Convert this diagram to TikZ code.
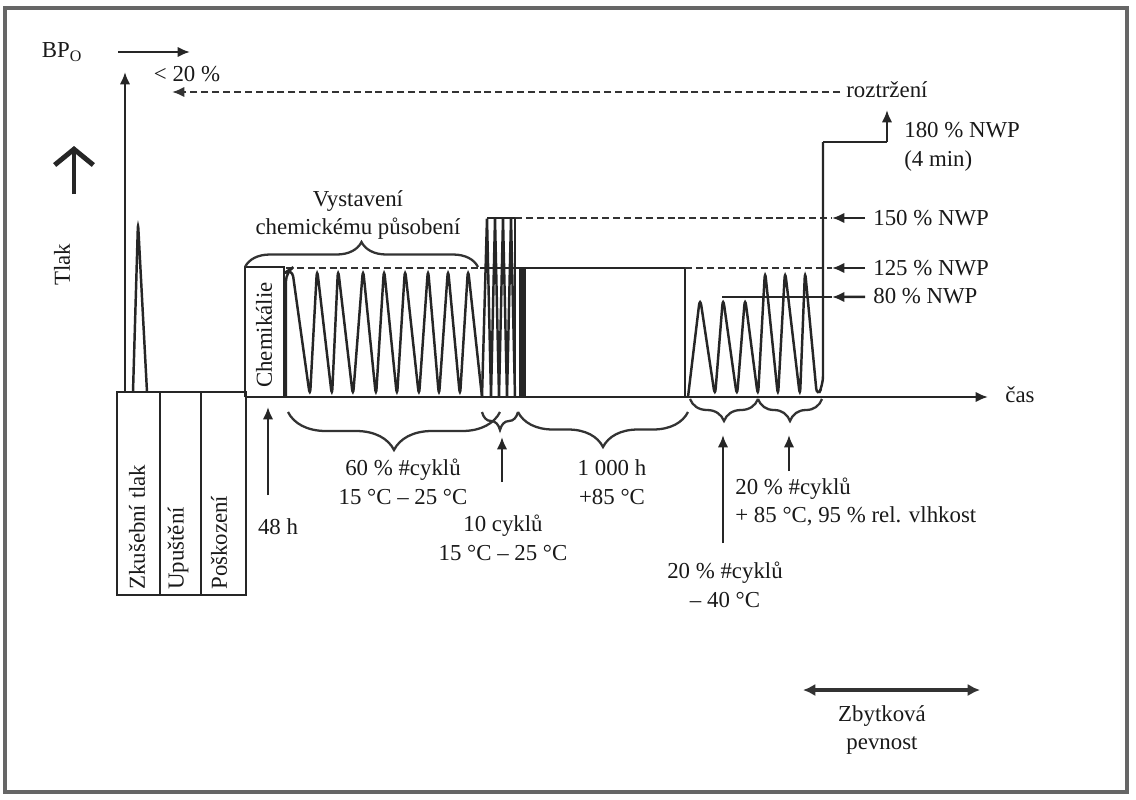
\documentclass[tikz,border=0pt]{standalone}
\usepackage{fontspec}
\setmainfont{Liberation Serif}
\usetikzlibrary{arrows.meta,decorations.pathreplacing}
\begin{document}
\begin{tikzpicture}[x=0.02cm,y=-0.02cm,
  every node/.style={font=\fontsize{13}{16.4}\selectfont, inner sep=0pt, text=black!90},
  ln/.style={line width=1.4pt, draw=black!85},
  dsh/.style={line width=1.5pt, draw=black!80, dash pattern=on 4pt off 2.2pt},
  arr/.style={-{Latex[length=7pt,width=6pt]}},
  brc/.style={line width=1.3pt, draw=black!80, decorate, decoration={brace, amplitude=#1}},
  lbl/.style={align=center},
]
\useasboundingbox (0,0) rectangle (1136,799);
\fill[white] (0,0) rectangle (1136,799);
\draw[line width=2.4pt, black!60] (5,8) rectangle (1127,792);

% top-left labels
\node (bpo) at (62,52) {BP\textsubscript{O}};
\coordinate (bpa) at (118,52); \coordinate (bpb) at (190,52);
\draw[ln,arr] (bpa) -- (bpb);
\node (lt20) at (187,74) {< 20 \%};
\coordinate (ba1) at (74,194); \coordinate (ba2) at (74,146);
\draw[line width=2.8pt, black!85, -{Straight Barb[length=9pt,width=22pt]}] (ba1) -- (ba2);
\node[rotate=90] (tlak) at (62,265) {Tlak};

% vertical axis
\coordinate (y0) at (125,392); \coordinate (y1) at (125,72);
\draw[ln,arr] (y0) -- (y1);

% rupture line
\node[anchor=west] (roz) at (846,90) {roztržení};
\coordinate (roze) at (840,92); \coordinate (rozt) at (172,92);
\draw[dsh,arr] (roze) -- (rozt);

% left boxes
\draw[ln] (117,392) rectangle (160,595);
\draw[ln] (160,392) rectangle (201,595);
\draw[ln] (201,392) rectangle (246,595);
\node[rotate=90,anchor=west] (zk) at (137,590) {Zkušební tlak};
\node[rotate=90,anchor=west] (up) at (178,590) {Upuštění};
\node[rotate=90,anchor=west] (po) at (219,590) {Poškození};

% spike
\draw[ln, rounded corners=4pt] (133,392) -- (138,222) -- (147,392);

% chemicals box
\draw[ln] (245,397) -- (245,267) -- (284,267) -- (284,397);
\node[rotate=90,anchor=west] (chem) at (264,388) {Chemikálie};

% time axis
\coordinate (t0) at (246,397); \coordinate (t1) at (988,397);
\draw[ln,arr] (t0) -- (t1);
\node[anchor=west] (cas) at (1005,395) {čas};

% levels
\draw[dsh] (286,268) -- (480,268);
\draw[ln] (480,268) -- (685,268) -- (685,397);
\draw[dsh] (685,268) -- (832,268);
\draw[ln] (487,218) -- (515,218);
\draw[dsh] (515,218) -- (832,218);
\draw[ln] (722,297) -- (832,297);
\fill[black!85] (519,268) rectangle (526,397);

% wave block 1
\draw[ln, rounded corners=5pt] (286,397) -- (286,272) -- (292,268) -- (310,397) -- (317,268) -- (332,397) -- (338,268) -- (353,397) -- (363,268) -- (376,397) -- (384,268) -- (397,397) -- (405,268) -- (419,397) -- (428,268) -- (439,397) -- (448,268) -- (460,397) -- (468,268) -- (482,397);
\draw[ln, rounded corners=1pt] (482,397) -- (487,218) -- (491,397) -- (495,218) -- (499,397) -- (503,218) -- (507,397) -- (511,218) -- (515,397);
\draw[ln] (515,218) -- (515,397);

% wave block 2
\draw[ln, rounded corners=5pt] (688,397) -- (700,297) -- (715,397) -- (723,297) -- (737,397) -- (745,297) -- (758,397) -- (765,270) -- (778,397) -- (785,270) -- (800,397) -- (805,270) -- (817,397) -- (823,385) -- (823,142);
\coordinate (s1) at (823,142); \coordinate (s2) at (887,142); \coordinate (s3) at (887,110);
\draw[ln] (s1) -- (s2);
\draw[ln,arr] (s2) -- (s3);

% right labels
\node[anchor=west,align=left] (l180) at (904,147) {180 \% NWP\\(4 min)};
\node[anchor=west] (l150) at (873,218) {150 \% NWP};
\node[anchor=west] (l125) at (873,268) {125 \% NWP};
\node[anchor=west] (l80) at (873,296) {80 \% NWP};
\coordinate (a150) at (832,218); \coordinate (a125) at (832,268); \coordinate (a80) at (832,297);
\draw[ln,arr] ([xshift=-4.5pt]l150.west) -- (a150);
\draw[ln,arr] ([xshift=-4.5pt]l125.west) -- (a125);
\draw[ln,arr] ([xshift=-4.5pt,yshift=-0.5pt]l80.west) -- (a80);

% braces
\draw[brc=0.5cm] (245,267) -- (478,267);
\node[lbl] (vyst) at (358,215) {Vystavení\\chemickému působení};
\draw[brc=0.76cm] (500,412) -- (288,412);
\draw[brc=0.36cm] (518,412) -- (482,412);
\draw[brc=0.7cm] (688,412) -- (518,412);
\draw[brc=0.44cm] (758,399) -- (690,399);
\draw[brc=0.44cm] (822,399) -- (758,399);

% lower arrows
\coordinate (h48a) at (268,495); \coordinate (h48b) at (268,407);
\draw[ln,arr] (h48a) -- (h48b);
\coordinate (c10a) at (502,482); \coordinate (c10b) at (502,437);
\draw[ln,arr] (c10a) -- (c10b);
\coordinate (c40a) at (723,543); \coordinate (c40b) at (723,435);
\draw[ln,arr] (c40a) -- (c40b);
\coordinate (c85a) at (789,471); \coordinate (c85b) at (789,435);
\draw[ln,arr] (c85a) -- (c85b);

% lower labels
\node (l48) at (278,527) {48 h};
\node[lbl] (l60) at (403,482) {60 \% \#cyklů\\15 °C – 25 °C};
\node[lbl] (l10) at (503,538) {10 cyklů\\15 °C – 25 °C};
\node[lbl] (l1000) at (612,482) {1 000 h\\+85 °C};
\node[anchor=west,align=left] (l85) at (735,502) {20 \% \#cyklů\\+ 85 °C, 95 \% rel. vlhkost};
\node[lbl] (l40) at (725,585) {20 \% \#cyklů\\– 40 °C};

% residual strength
\coordinate (z1) at (803,690); \coordinate (z2) at (980,690);
\draw[line width=2.4pt, black!80, {Latex[length=7pt,width=7pt]}-{Latex[length=7pt,width=7pt]}] (z1) -- (z2);
\node[lbl] (zb) at (882,730) {Zbytková\\pevnost};
\end{tikzpicture}
\end{document}
